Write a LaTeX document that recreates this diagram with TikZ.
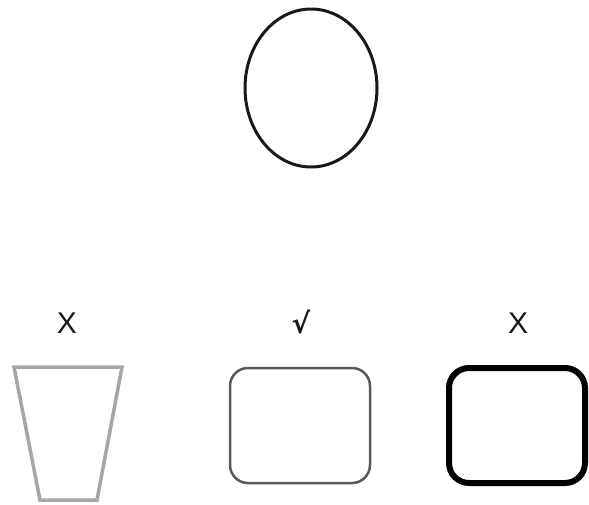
\documentclass[tikz,border=0pt]{standalone}
\usepackage{fontspec}
\usetikzlibrary{shapes.geometric}
\setmainfont{Liberation Sans}
\newfontfamily\symfont{DejaVu Sans}
\begin{document}
\begin{tikzpicture}[x=1pt,y=-1pt,
  lbl/.style={inner sep=0pt,font=\fontsize{30}{34}\selectfont,text=black!90}]
\useasboundingbox (0,0) rectangle (589,504);
\node[draw=black!90,line width=3pt,ellipse,minimum width=132pt,minimum height=158pt,inner sep=0pt] (egg) at (311,88) {};
\draw[draw=black!35,line width=3.5pt,line join=miter] (14,367) -- (122,367) -- (97,500) -- (40,500) -- cycle;
\coordinate (trap) at (68,433);
\draw[draw=black!65,line width=2.5pt,rounded corners=18pt] (230,368) rectangle (370,483);
\coordinate (mid) at (300,425);
\draw[draw=black,line width=6pt,rounded corners=20pt] (449,368) rectangle (585,483);
\coordinate (right) at (517,425);
\node[lbl] (l1) at (67,323) {X};
\node[lbl,font=\symfont\bfseries\fontsize{28}{32}\selectfont] (l2) at (301,322) {√};
\node[lbl] (l3) at (518,323) {X};
\end{tikzpicture}
\end{document}
